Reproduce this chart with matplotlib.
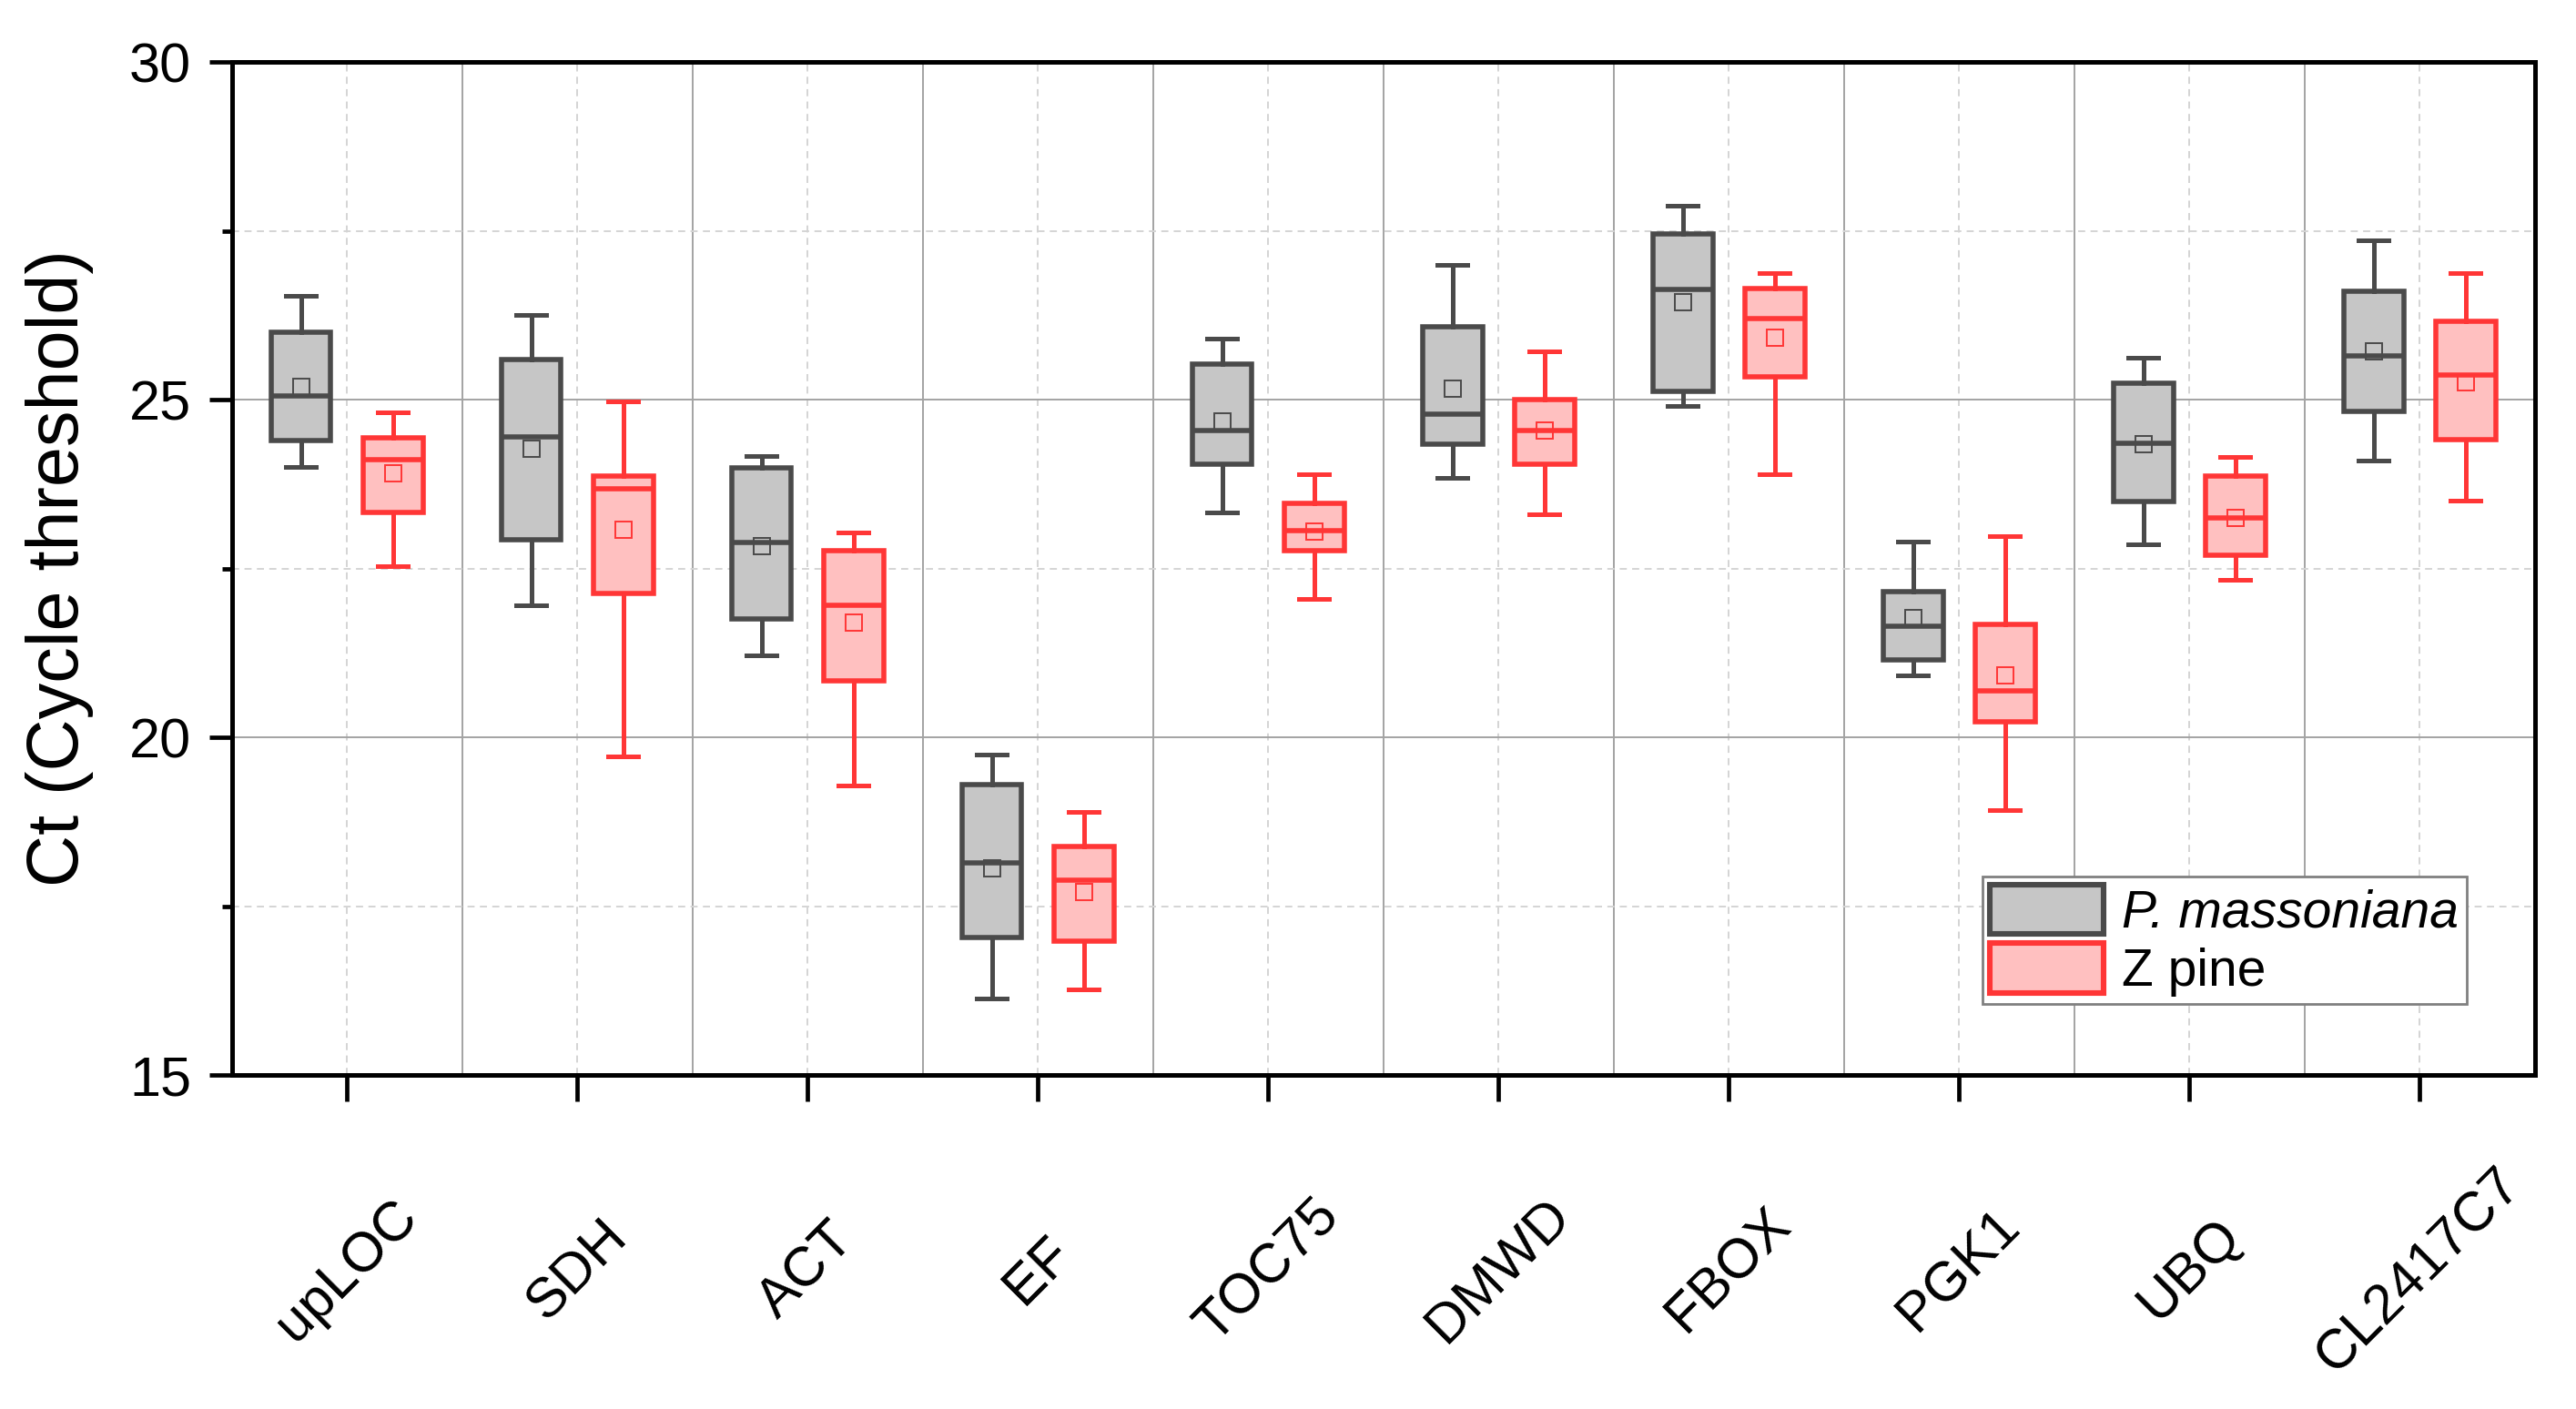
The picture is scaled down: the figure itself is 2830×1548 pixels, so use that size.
import numpy as np
import matplotlib.pyplot as plt
from matplotlib.patches import Patch
from matplotlib.ticker import FixedLocator

plt.rcParams['font.family'] = ['Liberation Sans', 'DejaVu Sans']

# reference genes
genes = ['upLOC', 'SDH', 'ACT', 'EF', 'TOC75', 'DMWD', 'FBOX', 'PGK1', 'UBQ', 'CL2417C7']

# P. massoniana
pm_low = [24.00, 21.95, 21.22, 16.14, 23.33, 23.84, 24.91, 20.92, 22.86, 24.10]
pm_q1 = [24.39, 22.93, 21.76, 17.04, 24.05, 24.34, 25.12, 21.15, 23.49, 24.83]
pm_med = [25.06, 24.45, 22.88, 18.14, 24.55, 24.79, 26.63, 21.64, 24.35, 25.65]
pm_q3 = [26.00, 25.60, 23.99, 19.30, 25.53, 26.08, 27.45, 22.16, 25.24, 26.60]
pm_high = [26.54, 26.26, 24.17, 19.74, 25.91, 27.00, 27.87, 22.90, 25.62, 27.36]
pm_mean = [25.19, 24.28, 22.83, 18.06, 24.68, 25.17, 26.45, 21.77, 24.34, 25.72]

# Z pine
zp_low = [22.54, 19.72, 19.29, 16.27, 22.05, 23.30, 23.89, 18.92, 22.33, 23.51]
zp_q1 = [23.33, 22.13, 20.84, 16.98, 22.77, 24.04, 25.34, 20.23, 22.70, 24.41]
zp_med = [24.11, 23.68, 21.96, 17.89, 23.06, 24.55, 26.20, 20.69, 23.25, 25.36]
zp_q3 = [24.43, 23.87, 22.76, 18.38, 23.47, 25.00, 26.65, 21.67, 23.87, 26.16]
zp_high = [24.81, 24.97, 23.03, 18.90, 23.89, 25.71, 26.88, 22.98, 24.15, 26.88]
zp_mean = [23.91, 23.07, 21.70, 17.71, 23.05, 24.54, 25.92, 20.92, 23.25, 25.26]

series = ['P. massoniana', 'Z pine']


def make_stats(low, q1, med, q3, high, mean):
    return [dict(whislo=a, q1=b, med=c, q3=d, whishi=e, mean=f, fliers=[])
            for a, b, c, d, e, f in zip(low, q1, med, q3, high, mean)]


def draw(ax, stats, pos, edge, face):
    ax.bxp(stats, positions=pos, widths=0.26, capwidths=0.13,
           showmeans=True, showfliers=False, patch_artist=True,
           boxprops=dict(facecolor=face, edgecolor=edge, linewidth=2.0),
           medianprops=dict(color=edge, linewidth=2.0),
           whiskerprops=dict(color=edge, linewidth=1.8),
           capprops=dict(color=edge, linewidth=1.8),
           meanprops=dict(marker='s', markerfacecolor='none',
                          markeredgecolor=edge, markeredgewidth=0.7,
                          markersize=6.5),
           manage_ticks=False)


fig = plt.figure(figsize=(14.15, 7.74), dpi=200)
ax = fig.add_axes([0.090, 0.237, 0.894, 0.719])

x = np.arange(len(genes))
gray_edge, gray_face = '#4a4a4a', '#c6c6c6'
red_edge, red_face = '#ff3636', '#ffc0c0'

draw(ax, make_stats(pm_low, pm_q1, pm_med, pm_q3, pm_high, pm_mean), x - 0.2, gray_edge, gray_face)
draw(ax, make_stats(zp_low, zp_q1, zp_med, zp_q3, zp_high, zp_mean), x + 0.2, red_edge, red_face)

ax.set_xlim(-0.5, len(genes) - 0.5)
ax.set_ylim(15, 30)
ax.set_yticks([15, 20, 25, 30])
ax.yaxis.set_minor_locator(FixedLocator([17.5, 22.5, 27.5]))
ax.set_xticks(x)
ax.xaxis.set_minor_locator(FixedLocator(x[:-1] + 0.5))
ax.set_xticklabels(genes, rotation=45, ha='center', va='center', fontsize=22)

ax.tick_params(axis='y', which='major', direction='out', length=9, width=1.7,
               labelsize=22, pad=7)
ax.tick_params(axis='y', which='minor', direction='out', length=3.8, width=1.7)
ax.tick_params(axis='x', which='major', direction='out', length=10.4, width=1.7, pad=67)
ax.tick_params(axis='x', which='minor', length=0)

ax.grid(axis='y', which='major', color='#a3a3a3', linewidth=0.7, linestyle='-')
ax.grid(axis='x', which='minor', color='#a3a3a3', linewidth=0.7, linestyle='-')
ax.grid(axis='y', which='minor', color='#d4d4d4', linewidth=0.7, linestyle=(0, (4, 3)))
ax.grid(axis='x', which='major', color='#d4d4d4', linewidth=0.7, linestyle=(0, (4, 3)))
ax.set_axisbelow(True)

for s in ax.spines.values():
    s.set_linewidth(1.8)
    s.set_color('black')

ax.set_ylabel('Ct (Cycle threshold)', fontsize=28.5, labelpad=14)

handles = [Patch(facecolor=gray_face, edgecolor=gray_edge, linewidth=2.2),
           Patch(facecolor=red_face, edgecolor=red_edge, linewidth=2.2)]
leg = ax.legend(handles, series, loc='lower left', bbox_to_anchor=(0.760, 0.070),
                borderaxespad=0, fontsize=20.5, handlelength=2.2, handleheight=1.1,
                labelspacing=0.1, handletextpad=0.35, borderpad=0.15,
                fancybox=False, framealpha=1, edgecolor='#808080')
leg.get_frame().set_linewidth(1.0)
leg.get_texts()[0].set_style('italic')

fig.savefig('out.png', dpi=200)
